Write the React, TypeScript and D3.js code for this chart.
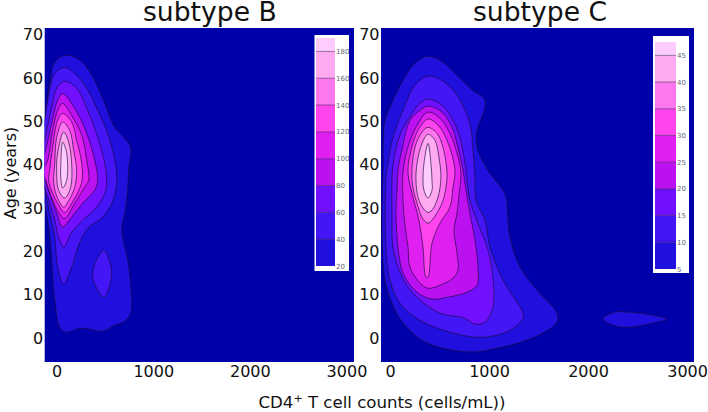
import React, { useEffect, useRef } from 'react';
import * as d3 from 'd3';

type Pt = [number, number];

// band colours, lowest band first (background is below the first level)
const background = '#0000aa';
const bandColors = ['#2010dd', '#4415f5', '#7010ff', '#bb10f0', '#e020f0', '#ff44ee', '#ff77ee', '#ffaaf0', '#ffccff'];

const xTicks = [0, 1000, 2000, 3000];
const yTicks = [0, 10, 20, 30, 40, 50, 60, 70];

const levelsB = [20, 40, 60, 80, 100, 120, 140, 160, 180];
const levelsC = [5, 10, 15, 20, 25, 30, 35, 40, 45];

// subtype B contour outlines, [CD4 count, age]
const b20: Pt[] = [[92, 65.2], [239, 64.1], [363, 60.6], [476, 55.3], [601, 48.6], [705, 46.1], [767, 43.8], [747, 39.4], [735, 34.6], [705, 28.8], [673, 24.9], [735, 18], [767, 11.8], [767, 5.8], [705, 3.9], [601, 3], [476, 1.6], [269, 2.3], [83, 1.4], [31, 2.5], [-20, 8.8], [-72, 23.3], [-124, 31.1], [-197, 38.7], [-124, 50.2], [-72, 58.8], [-20, 63.6]];
const b40: Pt[] = [[83, 62.4], [207, 60.6], [311, 57.6], [414, 53], [528, 47.2], [601, 41], [622, 35.7], [570, 31.1], [476, 27.9], [321, 25.3], [239, 22.1], [155, 16.4], [72, 12.4], [10, 16.4], [-20, 23.3], [-72, 28.8], [-124, 34.1], [-197, 41], [-124, 50.2], [-93, 54.8], [-20, 61]];
const b40Island: Pt[] = [[488, 20.3], [570, 15], [488, 9.4], [373, 14.1], [414, 18]];
const b60: Pt[] = [[83, 59.2], [207, 57.6], [321, 52.5], [425, 46.3], [498, 40.3], [518, 35.7], [498, 33.4], [414, 30.2], [269, 27.2], [155, 24.4], [72, 21], [20, 23.3], [-20, 27.2], [-72, 31.1], [-124, 34.8], [-176, 39.9], [-124, 45.6], [-52, 53.2], [0, 57.6]];
const b80: Pt[] = [[62, 56.4], [187, 53], [311, 47.2], [394, 41], [425, 36.4], [394, 34.1], [269, 31.1], [155, 27.9], [62, 25.6], [0, 28.8], [-72, 33.4], [-124, 36.4], [-166, 39.9], [-124, 42.6], [-52, 49.5], [10, 54.8]];
const b100: Pt[] = [[62, 54.1], [166, 50.9], [259, 46.8], [311, 41], [332, 36.4], [290, 34.8], [187, 31.1], [83, 27.6], [20, 29], [-42, 31.8], [-104, 35.7], [-135, 38.7], [-93, 41], [-42, 47.9], [20, 53]];
const b120: Pt[] = [[62, 51.8], [155, 49.8], [207, 45.6], [259, 40.3], [259, 35.9], [155, 31.1], [83, 29], [10, 31.1], [-42, 33.4], [-83, 36.4], [-72, 38.7], [-42, 44], [10, 50.2]];
const b140: Pt[] = [[62, 49.8], [135, 47.9], [176, 43.3], [207, 38.7], [187, 34.8], [114, 31.3], [72, 30.2], [10, 32.3], [-31, 35.7], [-20, 40.3], [0, 46.3]];
const b160: Pt[] = [[72, 47.5], [124, 45.2], [155, 40.3], [145, 34.8], [83, 32.3], [20, 34.1], [0, 38], [10, 42.6]];
const b180: Pt[] = [[62, 45.2], [104, 42.6], [104, 36.4], [62, 34.6], [42, 37.1], [42, 39.4]];

// subtype C contour outlines
const c5: Pt[] = [[384, 65], [535, 63.6], [706, 59.9], [858, 56.7], [949, 55.3], [959, 53.2], [879, 47.9], [879, 44], [989, 38.7], [1141, 34.1], [1171, 32.5], [1211, 23.3], [1312, 16.4], [1484, 11.1], [1686, 5.8], [1686, 3.7], [1545, 1.2], [1282, -1.2], [1040, -2.5], [838, -3.2], [535, -2.3], [323, -0.5], [131, 3.5], [20, 8.1], [-51, 13.4], [-81, 24.9], [-71, 38], [-51, 50.2], [-1, 53.2], [131, 59.4], [252, 63.4]];
const c5Island: Pt[] = [[2151, 4.4], [2271, 6], [2393, 6], [2595, 5.5], [2797, 4.4], [2656, 3.5], [2393, 2.5], [2252, 3]];
const c10: Pt[] = [[384, 60.4], [525, 59.4], [677, 56], [807, 49.5], [838, 43.3], [858, 37.6], [868, 31.8], [959, 27.2], [1009, 21], [1141, 13.4], [1343, 5.8], [1343, 4.6], [1211, 1.8], [939, 0.2], [636, 1.2], [302, 4.1], [100, 8.1], [-1, 13.4], [-41, 21], [-41, 36.4], [-20, 40.3], [30, 46.3], [131, 52.5], [252, 58.3]];
const c15: Pt[] = [[384, 55.1], [525, 53.7], [626, 50.7], [706, 46.3], [757, 40.3], [778, 36.4], [807, 31.8], [888, 26.5], [980, 21], [1030, 15.7], [1040, 7.1], [959, 3.7], [858, 3.2], [757, 4.6], [504, 5.8], [273, 9.4], [121, 14.1], [30, 21], [20, 28.8], [20, 36.4], [30, 39.9], [100, 46.8], [222, 51.8], [302, 54.1]];
const c20: Pt[] = [[384, 53.5], [525, 52.1], [626, 48.6], [686, 44], [737, 38.7], [757, 35.7], [807, 28.8], [858, 22.6], [888, 16.4], [879, 12.2], [778, 10.6], [576, 9.4], [424, 9], [273, 10.6], [131, 15], [81, 21], [60, 28.8], [71, 34.1], [81, 38.7], [131, 44.5], [201, 50.2], [302, 52.5]];
const c25: Pt[] = [[384, 52.1], [504, 50.7], [605, 47.2], [677, 42.6], [716, 38], [696, 32.9], [677, 28.8], [646, 24.9], [677, 19.6], [686, 15.7], [636, 13.8], [504, 12.2], [384, 11.5], [302, 12.7], [201, 16.4], [182, 21], [151, 26], [131, 31.8], [131, 38], [172, 43.3], [273, 49.1]];
const c30: Pt[] = [[384, 50.5], [485, 49.1], [576, 45.6], [656, 38.7], [636, 34.8], [605, 30.2], [504, 26.5], [424, 21.9], [384, 14.1], [363, 14.1], [333, 21], [292, 27.2], [232, 32.5], [182, 38], [201, 42.2], [283, 47.9]];
const c35: Pt[] = [[384, 48.6], [475, 47.2], [535, 44], [576, 38], [565, 34.8], [525, 31.1], [424, 27.2], [384, 26.5], [333, 27.4], [273, 31.1], [222, 36.4], [252, 44], [323, 47.5]];
const c40: Pt[] = [[384, 47], [454, 45.6], [494, 41.7], [514, 37.1], [485, 32.5], [424, 29.5], [384, 29], [333, 30], [283, 32.5], [262, 36.4], [273, 40.3], [323, 44.9]];
const c45: Pt[] = [[384, 44.9], [413, 40.3], [424, 36.4], [424, 34.1], [384, 32.3], [343, 34.1], [333, 36.4], [343, 40.3]];

const ringsB: Pt[][][] = [[b20], [b40, b40Island], [b60], [b80], [b100], [b120], [b140], [b160], [b180]];
const ringsC: Pt[][][] = [[c5, c5Island], [c10], [c15], [c20], [c25], [c30], [c35], [c40], [c45]];

const fontFamily = '"DejaVu Sans", sans-serif';

type PanelProps = {
  id: string;
  title: string;
  titleX: number;
  left: number;
  right: number;
  xDomain: [number, number];
  rings: Pt[][][];
  levels: number[];
  barTop: number;
  barBox: [number, number, number, number];
  bar: [number, number, number, number];
};

const top = 28;
const bottom = 362;

const Panel = ({ id, title, titleX, left, right, xDomain, rings, levels, barTop, barBox, bar }: PanelProps) => {
  const axisRef = useRef<SVGGElement>(null);
  const x = d3.scaleLinear().domain(xDomain).range([left, right]);
  const y = d3.scaleLinear().domain([-5.5, 71.5]).range([bottom, top]);
  const line = d3.line<Pt>().x((d) => x(d[0])).y((d) => y(d[1])).curve(d3.curveCatmullRomClosed.alpha(0.5));

  // colourbar runs from lowest level up to barTop
  const cbar = d3.scaleLinear().domain([levels[0], barTop]).range([bar[3], bar[1]]);
  const edges = [...levels, barTop];

  useEffect(() => {
    const g = d3.select(axisRef.current);
    g.selectAll('*').remove();
    const xAxis = d3.axisBottom(x).tickValues(xTicks).tickSize(0).tickPadding(4).tickFormat(d3.format('d') as any);
    const yAxis = d3.axisLeft(y).tickValues(yTicks).tickSize(0).tickPadding(1.5).tickFormat(d3.format('d') as any);
    const gx = g.append('g').attr('transform', `translate(0, ${bottom})`).call(xAxis as any);
    const gy = g.append('g').attr('transform', `translate(${left}, 0)`).call(yAxis as any);
    [gx, gy].forEach((a) => {
      a.select('.domain').remove();
      a.selectAll('text').attr('font-size', 16).attr('font-family', fontFamily).attr('fill', '#111');
    });
  }, []);

  return (
    <g>
      <defs>
        <clipPath id={id}>
          <rect x={left} y={top} width={right - left} height={bottom - top} />
        </clipPath>
      </defs>
      <rect x={left} y={top} width={right - left} height={bottom - top} fill={background} />
      <g clipPath={`url(#${id})`}>
        {rings.map((group, i) =>
          group.map((ring, j) => (
            <path key={`${i}-${j}`} d={line(ring) ?? ''} fill={bandColors[i]} stroke="#1a0a40" strokeOpacity={0.75} strokeWidth={0.9} />
          ))
        )}
      </g>
      <rect x={barBox[0]} y={barBox[1]} width={barBox[2] - barBox[0]} height={barBox[3] - barBox[1]} fill="#fff" />
      {levels.map((lv, i) => (
        <rect key={lv} x={bar[0]} y={cbar(edges[i + 1])} width={bar[2] - bar[0]} height={cbar(lv) - cbar(edges[i + 1])} fill={bandColors[i]} />
      ))}
      {levels.map((lv) => (
        <g key={lv}>
          {lv !== levels[0] && <line x1={bar[0]} x2={bar[2]} y1={cbar(lv)} y2={cbar(lv)} stroke="#1a0a40" strokeOpacity={0.6} strokeWidth={0.8} />}
          <text x={bar[2] + 1} y={cbar(lv) + 2.5} fontSize={7} fontFamily={fontFamily} fill="#667">{lv}</text>
        </g>
      ))}
      <text x={titleX} y={21} fontSize={26.6} fontFamily={fontFamily} fill="#111">{title}</text>
      <g ref={axisRef} />
    </g>
  );
};

export default function App() {
  return (
    <svg width={708} height={412} style={{ position: 'absolute', left: 0, top: 0, display: 'block' }}>
      <rect width={708} height={412} fill="#fff" />
      <Panel id="clipB" title="subtype B" titleX={143} left={44.7} right={354} xDomain={[-124, 3078]} rings={ringsB} levels={levelsB} barTop={190} barBox={[314.5, 35, 349, 271]} bar={[316, 38, 335, 266]} />
      <Panel id="clipC" title="subtype C" titleX={473} left={381} right={694} xDomain={[-91, 3070]} rings={ringsC} levels={levelsC} barTop={47.5} barBox={[653, 36, 689, 273]} bar={[655, 42, 676, 269]} />
      <text transform="translate(16, 173) rotate(-90)" textAnchor="middle" fontSize={16} fontFamily={fontFamily} fill="#111">Age (years)</text>
      <text x={382} y={408} textAnchor="middle" fontSize={16.6} fontFamily={fontFamily} fill="#111">
        CD4<tspan dy={-6} fontSize={11}>+</tspan><tspan dy={6}> T cell counts (cells/mL))</tspan>
      </text>
    </svg>
  );
}
